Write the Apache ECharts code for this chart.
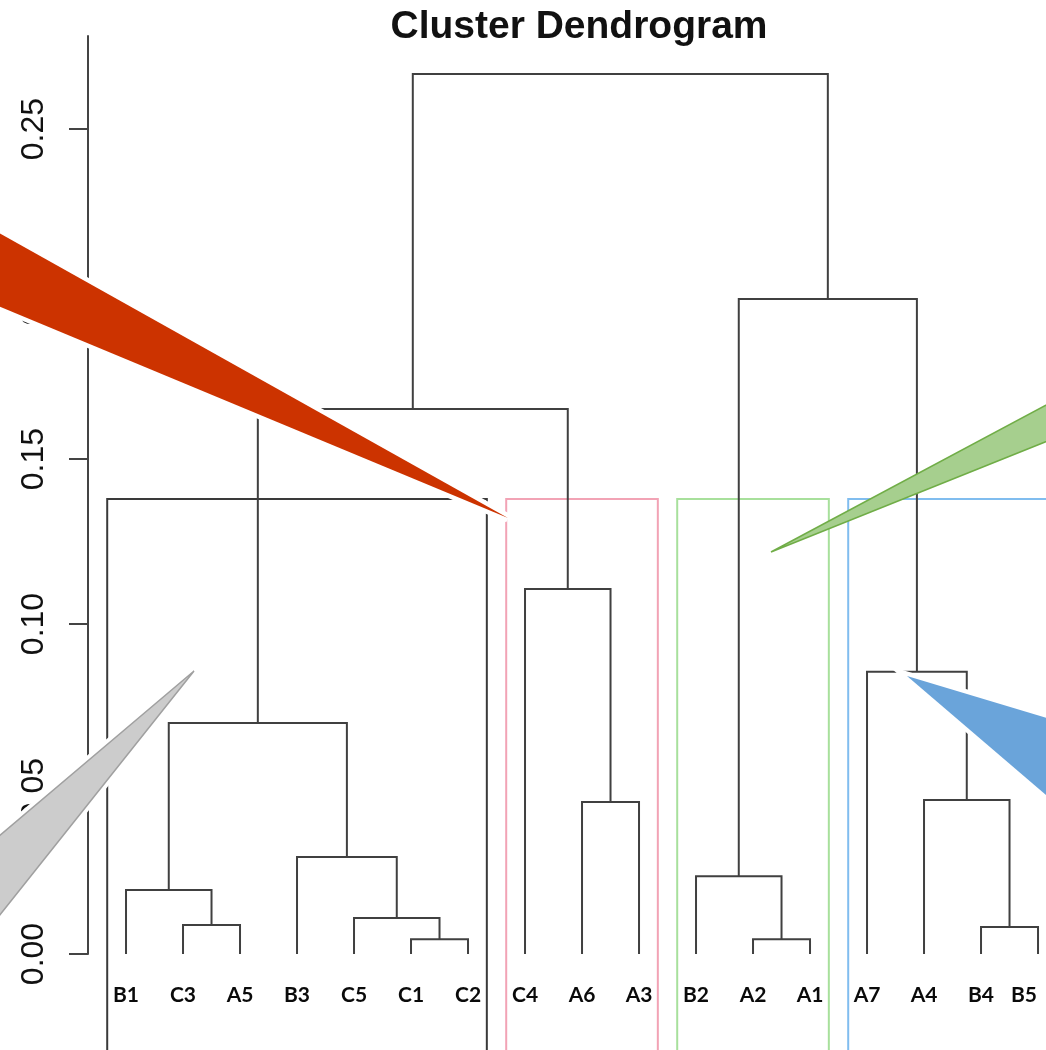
<!DOCTYPE html>
<html><head><meta charset="utf-8">
<script src="https://cdn.jsdelivr.net/npm/echarts@6/dist/echarts.min.js"></script>
<style>html,body{margin:0;padding:0;background:#fff}#c{width:1046px;height:1050px}</style>
</head><body><div id="c"></div>
<script>
// Leaves in plot order
const leaves = ['B1','C3','A5','B3','C5','C1','C2','C4','A6','A3','B2','A2','A1','A7','A4','B4','B5'];
// Merge table (R hclust convention: negative = leaf number, positive = earlier merge number)
const mergeLeft  = [-6, -12, -16, -2, -5, -1, -11, -4, -9, -15, 6, -14, -8, 11, 7, 14];
const mergeRight = [-7, -13, -17, -3, 1, 4, 2, 5, -10, 3, 8, 10, 9, 13, 12, 15];
const mergeHeight = [0.0045, 0.0045, 0.0082, 0.0088, 0.0109, 0.0194, 0.0236, 0.0294,
                     0.0461, 0.0467, 0.0700, 0.0855, 0.1106, 0.1652, 0.1985, 0.2667];
const yTicks = [0, 0.05, 0.10, 0.15, 0.20, 0.25];
// Cluster boxes (leaf index ranges) and cut height
const clusterStart = [0, 7, 10, 13];
const clusterEnd = [6, 9, 12, 16];
const cutHeight = 0.1379;
const clusterColors = ['#3a3a3a', '#f2a3b5', '#a8e09c', '#80bdef'];

const mergeX = [];
function refX(r) { return r < 0 ? -r - 1 : mergeX[r - 1]; }
function refH(r) { return r < 0 ? 0 : mergeHeight[r - 1]; }
const linkData = mergeHeight.map((h, i) => {
  const xl = refX(mergeLeft[i]), xr = refX(mergeRight[i]);
  mergeX[i] = (xl + xr) / 2;
  return [xl, refH(mergeLeft[i]), xr, refH(mergeRight[i]), h];
});
const boxData = clusterStart.map((s, i) => [s, clusterEnd[i], cutHeight, i]);
const leafData = leaves.map((n, i) => [i, 0]);

function wedge(points, fill, stroke, border) {
  const els = [];
  if (border) els.push({ type: 'polygon', z: 100, shape: { points }, style: { fill: '#fff', stroke: '#fff', lineWidth: 9, lineJoin: 'miter' } });
  els.push({ type: 'polygon', z: 101, shape: { points }, style: { fill, stroke: stroke || null, lineWidth: stroke ? 1.5 : 0 } });
  return els;
}

const chart = echarts.init(document.getElementById('c'), null, { renderer: 'canvas' });
chart.setOption({
  backgroundColor: '#fff',
  animation: false,
  grid: { left: 88, right: 0, top: 36, bottom: 96 },
  xAxis: { type: 'value', min: -0.667, max: 16.14, show: false },
  yAxis: {
    type: 'value', min: 0, max: 0.2782,
    axisLine: { show: true, onZero: false, lineStyle: { color: '#444', width: 2 } },
    axisTick: { show: true, length: 19, customValues: yTicks, lineStyle: { color: '#444', width: 2 } },
    axisLabel: { customValues: yTicks, formatter: v => v.toFixed(2), rotate: 90, fontSize: 32,
                 fontFamily: 'Liberation Sans', color: '#111', margin: 38 },
    splitLine: { show: false }
  },
  series: [
    {
      type: 'custom', data: boxData, z: 2, silent: true,
      encode: { x: [0, 1], y: 2 },
      renderItem: (params, api) => {
        const s = api.value(0), e = api.value(1), top = api.value(2), ci = api.value(3);
        const p1 = api.coord([s - 0.33, top]);
        const p2 = api.coord([e + 0.33, -0.06]);
        return { type: 'polyline', shape: { points: [[p1[0], p2[1]], [p1[0], p1[1]], [p2[0], p1[1]], [p2[0], p2[1]]] },
                 style: { stroke: clusterColors[ci], lineWidth: 2, fill: null } };
      }
    },
    {
      type: 'custom', data: linkData, z: 3, silent: true,
      encode: { x: [0, 2], y: [1, 4] },
      renderItem: (params, api) => {
        const a = api.coord([api.value(0), api.value(1)]);
        const b = api.coord([api.value(0), api.value(4)]);
        const c = api.coord([api.value(2), api.value(4)]);
        const d = api.coord([api.value(2), api.value(3)]);
        return { type: 'polyline', shape: { points: [a, b, c, d] },
                 style: { stroke: '#404040', lineWidth: 2, fill: null } };
      }
    },
    {
      type: 'custom', data: leafData, z: 4, silent: true,
      encode: { x: 0, y: 1 },
      renderItem: (params, api) => {
        const i = api.value(0);
        const p = api.coord([i, 0]);
        const x = Math.min(p[0], api.getWidth() - 22);
        return { type: 'text', x: x, y: p[1] + 41,
                 style: { text: leaves[i], fontFamily: 'Lato', fontWeight: 'bold', fontSize: 21, fill: '#0a0a0a',
                          align: 'center', verticalAlign: 'middle' } };
      }
    }
  ],
  graphic: [
    { type: 'text', z: 120, x: 579, y: 27,
      style: { text: 'Cluster Dendrogram', fontFamily: 'Liberation Sans', fontWeight: 'bold', fontSize: 39,
               fill: '#111', align: 'center', verticalAlign: 'middle' } },
    ...wedge([[-40, 211], [508, 518], [-40, 290]], '#cc3300', null, true),
    ...wedge([[771, 552], [1080, 387], [1080, 428]], '#a6cf8e', '#70ad47', false),
    ...wedge([[194, 671], [-40, 869], [-40, 965]], '#cccccc', '#a0a0a0', true),
    ...wedge([[907, 676], [1080, 728], [1080, 824]], '#6aa4da', null, true)
  ]
});
</script></body></html>
